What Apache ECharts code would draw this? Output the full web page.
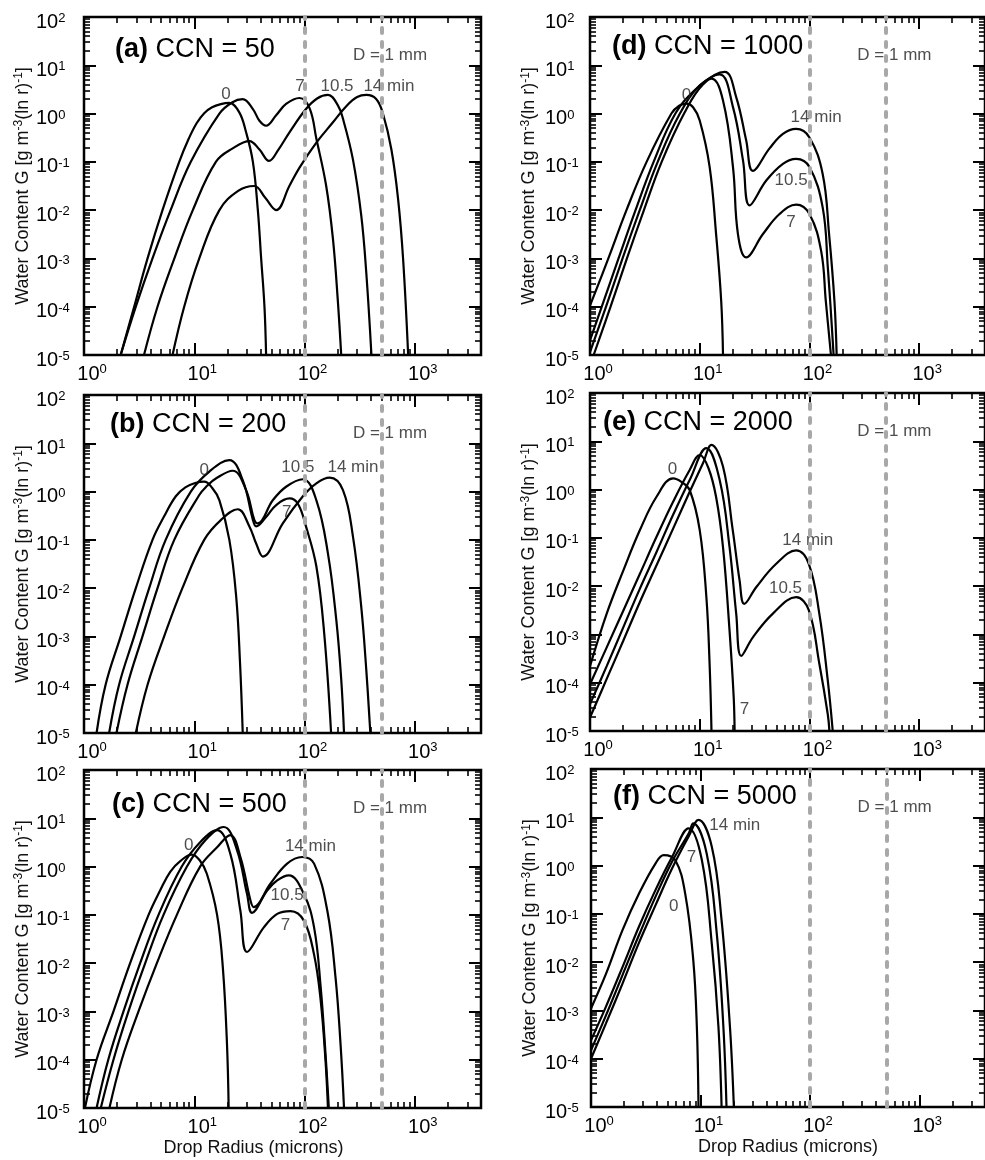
<!DOCTYPE html>
<html>
<head>
<meta charset="utf-8">
<script src="https://cdn.jsdelivr.net/npm/echarts@6/dist/echarts.min.js"></script>
<style>
  html, body { margin: 0; padding: 0; background: #fff; }
  #chart { width: 985px; height: 1160px; }
</style>
</head>
<body>
<div id="chart"></div>
<script>
// Water content G versus drop radius (microns), one curve per elapsed time (0, 7, 10.5, 14 min)

// (a) CCN = 50
const a0  = [[2.15,1e-5],[2.85,1e-4],[3.77,1e-3],[5.15,1e-2],[7.3,0.1],[8.9,0.3],[10.5,0.63],[12.3,1.02],[14.5,1.35],[17.4,1.57],[20.8,1.66],[25.6,1.06],[29.5,0.41],[34,0.1],[37.7,0.01],[40.4,1e-3],[43.3,1e-4],[44.8,1e-5]];
const a7  = [[2.15,1e-5],[2.95,1e-4],[4.18,1e-3],[6.1,1e-2],[9.3,0.1],[16.9,1.0],[22,1.7],[27.5,1.99],[34,1.24],[39,0.71],[44.8,0.56],[55,0.91],[68,1.58],[90,2.1],[111,1.3],[128,0.3],[157,0.032],[181,2.5e-3],[200,1.4e-4],[215,1e-5]];
const a10 = [[3.5,1e-5],[4.64,1e-4],[6.6,1e-3],[9.7,1e-2],[15.7,0.1],[22.3,0.19],[31.6,0.27],[39,0.18],[47.6,0.105],[58,0.18],[73,0.41],[103,1.24],[130,2.05],[163,2.43],[200,1.5],[223,0.78],[275,0.11],[327,7.6e-3],[363,5e-4],[404,1e-5]];
const a14 = [[6.35,1e-5],[8.1,1e-4],[11.1,1e-3],[16.9,1e-2],[25,0.025],[35,0.0316],[44,0.018],[55.3,0.01],[73,0.032],[90,0.076],[128,0.25],[181,0.66],[240,1.44],[300,2.2],[363,2.43],[446,2.0],[515,0.98],[613,0.18],[705,0.017],[783,9.6e-4],[870,1e-5]];

// (b) CCN = 200
const b0  = [[1.30,1e-5],[1.57,1e-4],[2.15,1e-3],[2.95,1e-2],[4.18,0.1],[5.3,0.3],[6.8,0.8],[8.3,1.22],[10.2,1.5],[12.3,1.6],[14.5,1.2],[16.9,0.66],[20.8,0.1],[24,6.6e-3],[26,2.8e-4],[27.5,1e-5]];
const b7  = [[1.69,1e-5],[2.08,1e-4],[2.85,1e-3],[3.9,1e-2],[5.5,0.1],[9.3,1.0],[13.7,2.6],[20.8,4.5],[27.5,1.73],[34,0.26],[36.4,0.19],[45,0.3],[55,0.52],[73,0.72],[87,0.56],[103,0.19],[128,0.028],[151,1.1e-3],[174,1e-5]];
const b10 = [[1.97,1e-5],[2.48,1e-4],[3.39,1e-3],[4.64,1e-2],[6.58,0.1],[11.1,0.85],[13,1.3],[15.7,1.86],[22.3,2.7],[29.5,1.07],[35,0.26],[37.7,0.22],[51.5,0.66],[68,1.26],[96.6,1.8],[128,0.66],[163,0.052],[194,2.2e-3],[215,1.3e-4],[228,1e-5]];
const b14 = [[2.95,1e-5],[3.77,1e-4],[5.33,1e-3],[7.8,1e-2],[12.3,0.1],[17.5,0.26],[24.8,0.43],[31.6,0.19],[36.4,0.084],[41.9,0.045],[63.5,0.22],[96.6,0.8],[128,1.48],[169,1.94],[223,1.07],[275,0.115],[327,4e-3],[363,2e-4],[395,1e-5]];

// (c) CCN = 500
const c0  = [[1.02,1e-5],[1.30,1e-4],[1.85,1e-3],[2.62,1e-2],[3.85,0.1],[4.9,0.32],[6.05,0.78],[7.46,1.3],[9.5,1.77],[11.2,1.35],[13,0.71],[16.1,0.1],[18.2,7.5e-3],[19.8,2.1e-4],[20.5,1e-5]];
const c7  = [[1.30,1e-5],[1.66,1e-4],[2.28,1e-3],[3.23,1e-2],[4.74,0.1],[7.7,1.0],[11.3,3.2],[16.1,5.7],[21.2,1.85],[26.2,0.12],[30.1,0.017],[42.7,0.055],[56.5,0.105],[74.6,0.12],[98.6,0.076],[122,0.015],[140,1.7e-3],[155,9.3e-5],[163,1e-5]];
const c10 = [[1.42,1e-5],[1.85,1e-4],[2.53,1e-3],[3.59,1e-2],[5.26,0.1],[8.58,1.0],[12.6,3.5],[18.5,6.6],[24.4,2.2],[30.1,0.27],[33.4,0.11],[45.8,0.32],[56.5,0.52],[72,0.66],[98.6,0.27],[122,0.055],[140,3.2e-3],[155,1.3e-4],[166,1e-5]];
const c14 = [[1.70,1e-5],[2.2,1e-4],[3.12,1e-3],[4.58,1e-2],[6.95,0.1],[11.3,1.0],[16.1,2.5],[21.2,4.5],[26.2,1.58],[32.3,0.2],[34.6,0.145],[49,0.44],[69.5,1.15],[95,1.58],[122,1.15],[161,0.12],[191,5e-3],[212,2.1e-4],[228,1e-5]];

// (d) CCN = 1000
const d0  = [[1,1.05e-4],[1.47,1e-3],[2.15,1e-2],[3.28,0.1],[5.52,1.0],[6.5,1.45],[7.57,1.6],[8.7,1.35],[10,0.72],[12.3,0.08],[14.1,3.2e-3],[15.7,1.3e-4],[16.3,1e-5]];
const d7  = [[1,2e-5],[1.28,1e-4],[1.82,1e-3],[2.6,1e-2],[3.8,0.1],[6.0,1.0],[9.2,3.2],[12.8,5.3],[16.3,1.87],[20.1,0.078],[22.3,3.2e-3],[26.5,1.05e-3],[37.7,3.2e-3],[53.4,8.3e-3],[75.7,0.013],[100,8.3e-3],[128,1.4e-3],[141,1.3e-4],[157,1e-5]];
const d10 = [[1,1.15e-5],[1.4,1e-4],[1.98,1e-3],[2.84,1e-2],[4.14,0.1],[6.6,1.0],[10,3.8],[15.2,6.5],[20.1,1.36],[24.8,0.107],[28.5,0.0126],[40.4,0.041],[57.3,0.091],[75.7,0.115],[100,0.078],[132,0.0114],[147,6.6e-4],[166,1e-5]];
const d14 = [[1.08,1e-5],[1.54,1e-4],[2.17,1e-3],[3.1,1e-2],[4.5,0.1],[7.2,1.0],[10.7,4.0],[16.9,7.3],[21.5,2.19],[26.5,0.28],[30.5,0.065],[43.3,0.19],[57.3,0.38],[75.7,0.48],[100,0.32],[132,0.056],[151,3.2e-3],[169,1.3e-4],[177,1e-5]];

// (e) CCN = 2000
const e0  = [[1,2.2e-4],[1.42,2.7e-3],[2.01,0.021],[2.85,0.145],[4.04,0.71],[5.72,1.71],[6.8,1.45],[8.1,0.98],[10,0.145],[11.5,5.9e-3],[12.3,2.5e-4],[12.8,1e-5]];
const e7  = [[1,9.3e-5],[1.42,5.4e-4],[2.01,3.1e-3],[2.85,0.018],[4.04,0.105],[5.72,0.56],[8.1,2.55],[10,5.2],[12,2.8],[14.1,0.7],[16.3,0.064],[18.7,1.2e-3],[20.4,5e-5],[20.8,1e-5]];
const e10 = [[1,3.6e-5],[1.42,2.2e-4],[2.01,1.4e-3],[2.85,8.9e-3],[4.04,0.051],[5.72,0.3],[8.1,1.58],[11.5,7.2],[15.2,1.58],[18.7,0.064],[21.5,2.7e-3],[23.9,3.6e-4],[30.5,8.7e-4],[46.4,2.7e-3],[75.7,5.9e-3],[98.6,3.2e-3],[123,2.5e-4],[147,2.2e-5],[152,1e-5]];
const e14 = [[1,1.9e-5],[1.42,1.2e-4],[2.01,7.4e-4],[2.85,4.7e-3],[4.04,0.027],[5.72,0.155],[8.1,0.9],[10.7,3.5],[12.8,8.4],[16.3,3.0],[20,0.145],[23.1,0.013],[25.5,4.3e-3],[32.7,9.5e-3],[49.8,0.029],[75.7,0.055],[98.6,0.029],[123,2.7e-3],[147,1.1e-4],[163,1e-5]];

// (f) CCN = 5000
const f0  = [[1,1.1e-3],[1.37,5.7e-3],[1.94,0.046],[2.74,0.26],[3.88,1.1],[4.62,1.65],[5.9,1.29],[7.26,0.26],[8.6,0.011],[9.27,4.6e-4],[9.6,1e-5]];
const f7  = [[1,2.4e-4],[1.37,1.2e-3],[1.94,7.9e-3],[2.74,0.054],[3.88,0.31],[5.5,1.5],[7.8,5.9],[10.3,1.3],[12.7,0.024],[14.6,4.6e-4],[15.6,1e-5]];
const f10 = [[1,1.5e-4],[1.37,7.9e-4],[1.94,5.4e-3],[2.74,0.036],[3.88,0.225],[5.5,1.2],[7.8,4.6],[8.6,7.5],[11.4,1.78],[14.1,0.039],[16.2,4.6e-4],[17.3,1e-5]];
const f14 = [[1,1e-4],[1.37,5.4e-4],[1.94,3.6e-3],[2.74,0.025],[3.88,0.15],[5.5,0.87],[7.8,4.0],[9.6,8.8],[12.7,2.45],[15.6,0.074],[18.6,4.6e-4],[20.2,1e-5]];

// Curve annotations: [radius, G, text]
const aLabels = [[19.4,2.55,'0'],[91,3.7,'7'],[197,3.7,'10.5'],[582,3.7,'14 min']];
const bLabels = [[12.3,2.79,'0'],[87,3.16,'10.5'],[275,3.16,'14 min'],[69,0.38,'7']];
const cLabels = [[8.9,2.75,'0'],[113,2.63,'14 min'],[69.5,0.25,'10.5'],[67,0.06,'7']];
const dLabels = [[7.57,2.38,'0'],[115,0.845,'14 min'],[68,0.041,'10.5'],[68,5.6e-3,'7']];
const eLabels = [[5.64,2.63,'0'],[96.6,0.089,'14 min'],[60.5,8.9e-3,'10.5'],[25.6,2.8e-5,'7']];
const fLabels = [[20.6,6.9,'14 min'],[8.3,1.5,'7'],[5.7,0.14,'0']];
const sizeNote = [595, 16, 'D = 1 mm'];

// Reference radii: 100 microns and 500 microns (1 mm diameter)
const refRadii = [100, 500];

// Axis extents and ticks
const xMin = 1, xMax = 3981;
const yMin = 1e-5, yMax = 100;
const xMajor = [1, 10, 100, 1000];
const yMajor = [1e-5, 1e-4, 1e-3, 1e-2, 1e-1, 1, 10, 100];
const minorSteps = [2, 3, 4, 5, 6, 7, 8, 9];
const xMinor = [];
xMajor.forEach(d => minorSteps.forEach(m => { if (d * m < xMax) xMinor.push(d * m); }));
const yMinor = [];
yMajor.slice(0, -1).forEach(d => minorSteps.forEach(m => yMinor.push(d * m)));

const panels = [
  { tag: '(a)', ccn: '50',   curves: [a0, a7, a10, a14], labels: aLabels, left: 84,  top: 17,  tx: 115, ty: 51, yLabelGap: 48 },
  { tag: '(b)', ccn: '200',  curves: [b0, b7, b10, b14], labels: bLabels, left: 84,  top: 395, tx: 110, ty: 426, yLabelGap: 48 },
  { tag: '(c)', ccn: '500',  curves: [c0, c7, c10, c14], labels: cLabels, left: 84,  top: 770, tx: 112, ty: 806, yLabelGap: 48, xName: true, xNameGap: 25, xNameShift: 58 },
  { tag: '(d)', ccn: '1000', curves: [d0, d7, d10, d14], labels: dLabels, left: 590, top: 17,  tx: 612, ty: 48, yLabelGap: 45 },
  { tag: '(e)', ccn: '2000', curves: [e0, e7, e10, e14], labels: eLabels, left: 590, top: 393, tx: 603, ty: 424, yLabelGap: 45 },
  { tag: '(f)', ccn: '5000', curves: [f0, f7, f10, f14], labels: fLabels, left: 591, top: 769, tx: 613, ty: 798, yLabelGap: 46, xName: true, xNameGap: 30, xNameShift: 0 }
];

const font = '"Liberation Sans", Arial, Helvetica, sans-serif';
const ink = '#000';
const powLabel = v => '{n|10}{s|' + Math.round(Math.log10(v)) + '}';
// Exponents are raised through asymmetric token padding
const xRich = {
  n: { fontSize: 20, fontFamily: font, color: ink, lineHeight: 20 },
  s: { fontSize: 13, fontFamily: font, color: ink, lineHeight: 13, padding: [0, 0, 9, 0] }
};
const yRich = {
  n: { fontSize: 20, fontFamily: font, color: ink, lineHeight: 20, padding: [10, 0, 0, 0] },
  s: { fontSize: 13, fontFamily: font, color: ink, lineHeight: 13, padding: [3, 0, 0, 0] }
};
const nameRich = {
  s: { fontSize: 12, fontFamily: font, color: '#111', lineHeight: 12, padding: [0, 0, 7, 0] }
};

const grids = [], xAxes = [], yAxes = [], series = [], titles = [];

panels.forEach((p, g) => {
  grids.push({
    left: p.left, top: p.top, width: 397, height: 338,
    show: true, borderColor: ink, borderWidth: 2.5, backgroundColor: 'transparent'
  });

  const xBase = { type: 'log', logBase: 10, gridIndex: g, min: xMin, max: xMax,
    axisLine: { show: false }, splitLine: { show: false }, axisPointer: { show: false } };
  const yBase = { type: 'log', logBase: 10, gridIndex: g, min: yMin, max: yMax,
    axisLine: { show: false }, splitLine: { show: false }, axisPointer: { show: false } };
  const majorTick = vals => ({ show: true, inside: true, length: 12, customValues: vals, lineStyle: { color: ink, width: 2 } });
  const minorTick = vals => ({ show: true, inside: true, length: 6, customValues: vals, lineStyle: { color: ink, width: 1.6 } });

  const xi = xAxes.length, yi = yAxes.length;

  xAxes.push(Object.assign({}, xBase, {
    position: 'bottom',
    axisTick: majorTick(xMajor),
    axisLabel: { show: true, customValues: xMajor, formatter: powLabel, rich: xRich, margin: 9, padding: [0, 0, 0, 16] },
    name: p.xName ? 'Drop Radius (microns)' : '',
    nameLocation: 'middle', nameGap: p.xNameGap || 25,
    nameTextStyle: { fontSize: 18, fontFamily: font, color: '#111', padding: [0, p.xNameShift || 0, 0, 0] }
  }));
  xAxes.push(Object.assign({}, xBase, { position: 'bottom', axisTick: minorTick(xMinor), axisLabel: { show: false } }));
  xAxes.push(Object.assign({}, xBase, { position: 'top', axisTick: majorTick(xMajor), axisLabel: { show: false } }));
  xAxes.push(Object.assign({}, xBase, { position: 'top', axisTick: minorTick(xMinor), axisLabel: { show: false } }));

  yAxes.push(Object.assign({}, yBase, {
    position: 'left',
    axisTick: majorTick(yMajor),
    axisLabel: { show: true, customValues: yMajor, formatter: powLabel, rich: yRich, margin: p.yLabelGap, align: 'left' },
    name: 'Water Content G [g m{s|-3}(ln r){s|-1}]',
    nameLocation: 'middle', nameGap: 52, nameRotate: 90,
    nameTextStyle: { fontSize: 18, fontFamily: font, color: '#111', rich: nameRich }
  }));
  yAxes.push(Object.assign({}, yBase, { position: 'left', axisTick: minorTick(yMinor), axisLabel: { show: false } }));
  yAxes.push(Object.assign({}, yBase, { position: 'right', axisTick: majorTick(yMajor), axisLabel: { show: false } }));
  yAxes.push(Object.assign({}, yBase, { position: 'right', axisTick: minorTick(yMinor), axisLabel: { show: false } }));

  p.curves.forEach(curve => {
    series.push({
      type: 'line', xAxisIndex: xi, yAxisIndex: yi, data: curve,
      symbol: 'none', showSymbol: false, smooth: 0.4,
      lineStyle: { color: ink, width: 2.2 }, clip: true, silent: true, z: 3
    });
  });

  const notes = p.labels.concat([sizeNote]).map(l => ({ value: [l[0], l[1]], name: l[2] }));
  series.push({
    type: 'scatter', xAxisIndex: xi, yAxisIndex: yi, data: notes,
    symbolSize: 1, itemStyle: { color: 'rgba(0,0,0,0)' }, silent: true, z: 4,
    label: { show: true, position: 'inside', formatter: '{b}', fontSize: 17, fontFamily: font, color: '#222' }
  });

  series.push({
    type: 'line', xAxisIndex: xi, yAxisIndex: yi, data: [], silent: true, z: 6,
    markLine: {
      silent: true, symbol: ['none', 'none'], label: { show: false },
      lineStyle: { color: '#a8a8a8', width: 4, type: [5, 9], cap: 'round', opacity: 1 },
      emphasis: { disabled: true },
      data: refRadii.map(r => ({ xAxis: r }))
    }
  });

  titles.push({
    text: '{b|' + p.tag + '} CCN = ' + p.ccn,
    left: p.tx, top: p.ty - 15, padding: 0,
    textStyle: { fontSize: 27, fontFamily: font, color: ink, fontWeight: 'normal',
      rich: { b: { fontSize: 27, fontFamily: font, color: ink, fontWeight: 'bold' } } }
  });
});

const chart = echarts.init(document.getElementById('chart'), null, { renderer: 'canvas' });
chart.setOption({
  animation: false,
  backgroundColor: '#fff',
  title: titles,
  grid: grids,
  xAxis: xAxes,
  yAxis: yAxes,
  series: series
});
</script>
</body>
</html>
